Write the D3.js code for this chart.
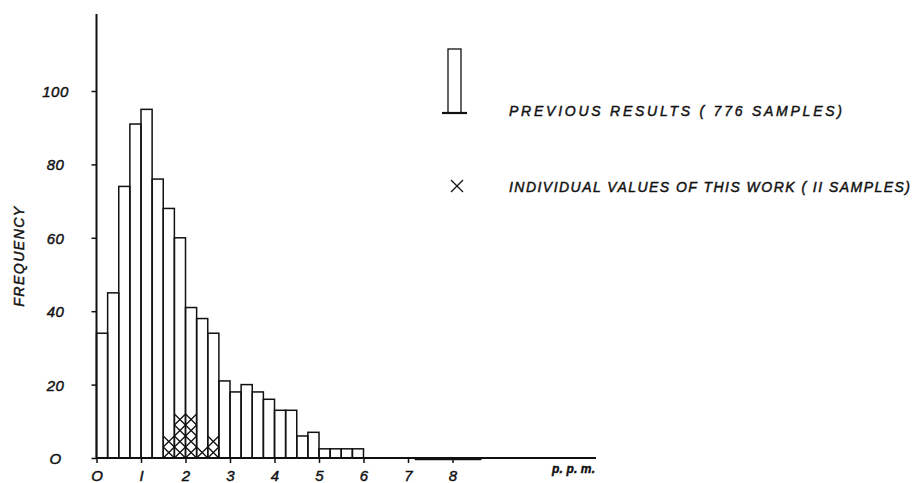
<!DOCTYPE html>
<html>
<head>
<meta charset="utf-8">
<script src="https://cdn.jsdelivr.net/npm/d3@7"></script>
<style>
  body { margin: 0; background: #fff; }
  svg text { font-family: "Liberation Sans", Arial, sans-serif; font-style: italic; fill: #111; stroke: #111; stroke-width: 0.45; }
</style>
</head>
<body>
<div id="chart"></div>
<script>
// bin starts (p.p.m.), bin width 0.25
const binStarts = [0, 0.25, 0.5, 0.75, 1, 1.25, 1.5, 1.75, 2, 2.25, 2.5, 2.75,
                   3, 3.25, 3.5, 3.75, 4, 4.25, 4.5, 4.75, 5, 5.25, 5.5, 5.75];
const frequency = [34, 45, 74, 91, 95, 76, 68, 60, 41, 38, 34, 21,
                   18, 20, 18, 16, 13, 13, 6, 7, 2.5, 2.5, 2.5, 2.5];
// individual values of this work, crosses stacked per bin
const crossBins = [1.5, 1.75, 2, 2.25, 2.5];
const crossCounts = [2, 4, 4, 1, 2];
const xTicks = [0, 1, 2, 3, 4, 5, 6, 7, 8];
const xTickLabels = ['O', 'I', '2', '3', '4', '5', '6', '7', '8'];
const yTicks = [0, 20, 40, 60, 80, 100];
const yTickLabels = ['O', '20', '40', '60', '80', '100'];
const binWidth = 0.25;

const width = 913, height = 483;

const svg = d3.select('#chart').append('svg')
    .attr('width', width)
    .attr('height', height);

const x = d3.scaleLinear().domain([0, 8]).range([96.5, 452.5]);
const y = d3.scaleLinear().domain([0, 100]).range([458, 91]);

// bars
svg.append('g')
    .selectAll('rect')
    .data(binStarts)
    .join('rect')
        .attr('x', d => x(d))
        .attr('y', (d, i) => y(frequency[i]))
        .attr('width', x(binWidth) - x(0))
        .attr('height', (d, i) => y(0) - y(frequency[i]))
        .attr('fill', 'none')
        .attr('stroke', '#111')
        .attr('stroke-width', 1.5);

// crosses, one per sample
const cellH = 3; // frequency units per cross
const crosses = [];
crossBins.forEach((b, i) => {
    for (let k = 0; k < crossCounts[i]; k++) crosses.push({ b: b, k: k });
});
const cg = svg.append('g').attr('stroke', '#111').attr('stroke-width', 1.3);
crosses.forEach(c => {
    const x0 = x(c.b), x1 = x(c.b + binWidth);
    const y0 = y(c.k * cellH), y1 = y((c.k + 1) * cellH);
    cg.append('line').attr('x1', x0).attr('y1', y0).attr('x2', x1).attr('y2', y1);
    cg.append('line').attr('x1', x0).attr('y1', y1).attr('x2', x1).attr('y2', y0);
});

// axes
const yAxis = svg.append('g')
    .attr('transform', `translate(${x(0)},0)`)
    .call(d3.axisLeft(y).tickValues(yTicks).tickSize(5).tickFormat((d, i) => yTickLabels[i]));
yAxis.select('.domain').remove();
yAxis.selectAll('line').attr('stroke', '#111').attr('stroke-width', 1.5);
yAxis.selectAll('text')
    .attr('x', -41)
    .attr('dy', '0.36em')
    .attr('text-anchor', 'middle')
    .attr('font-size', 15)
    .attr('letter-spacing', 0.5)
    .attr('fill', '#111')
    .style('font-family', '"Liberation Sans", Arial, sans-serif')
    .style('font-style', 'italic');

const xAxis = svg.append('g')
    .attr('transform', `translate(0,${y(0)})`)
    .call(d3.axisBottom(x).tickValues(xTicks).tickSize(5).tickFormat((d, i) => xTickLabels[i]));
xAxis.select('.domain').remove();
xAxis.selectAll('line').attr('stroke', '#111').attr('stroke-width', 1.5);
xAxis.selectAll('text')
    .attr('y', 23)
    .attr('dy', 0)
    .attr('font-size', 15)
    .attr('fill', '#111')
    .style('font-family', '"Liberation Sans", Arial, sans-serif')
    .style('font-style', 'italic');

// axis lines
svg.append('line')
    .attr('x1', x(0)).attr('x2', x(0))
    .attr('y1', y(0)).attr('y2', 14)
    .attr('stroke', '#111').attr('stroke-width', 2);
svg.append('line')
    .attr('x1', x(0)).attr('x2', 596)
    .attr('y1', y(0)).attr('y2', y(0))
    .attr('stroke', '#111').attr('stroke-width', 2.2);
svg.append('line')
    .attr('x1', x(7.15)).attr('x2', x(8.65))
    .attr('y1', y(0) + 1.5).attr('y2', y(0) + 1.5)
    .attr('stroke', '#111').attr('stroke-width', 1.5);

svg.append('text')
    .attr('x', 552).attr('y', 473)
    .attr('font-size', 12)
    .attr('font-weight', 'bold')
    .attr('textLength', 43)
    .text('p. p. m.');

svg.append('text')
    .attr('transform', 'translate(24,256) rotate(-90)')
    .attr('text-anchor', 'middle')
    .attr('font-size', 14)
    .attr('letter-spacing', 1.5)
    .text('FREQUENCY');

// legend
const lg = svg.append('g');
lg.append('rect')
    .attr('x', 448).attr('y', 49)
    .attr('width', 13).attr('height', 64)
    .attr('fill', 'none').attr('stroke', '#111').attr('stroke-width', 1.3);
lg.append('line')
    .attr('x1', 442).attr('x2', 467)
    .attr('y1', 113).attr('y2', 113)
    .attr('stroke', '#111').attr('stroke-width', 2.2);
lg.append('text')
    .attr('x', 509).attr('y', 116)
    .attr('font-size', 14)
    .attr('textLength', 333)
    .text('PREVIOUS  RESULTS  ( 776  SAMPLES)');

lg.append('line').attr('x1', 451).attr('y1', 180).attr('x2', 463).attr('y2', 192)
    .attr('stroke', '#111').attr('stroke-width', 1.2);
lg.append('line').attr('x1', 451).attr('y1', 192).attr('x2', 463).attr('y2', 180)
    .attr('stroke', '#111').attr('stroke-width', 1.2);
lg.append('text')
    .attr('x', 509).attr('y', 192)
    .attr('font-size', 14)
    .attr('textLength', 401)
    .text('INDIVIDUAL  VALUES  OF  THIS  WORK  ( II SAMPLES)');
</script>
</body>
</html>
